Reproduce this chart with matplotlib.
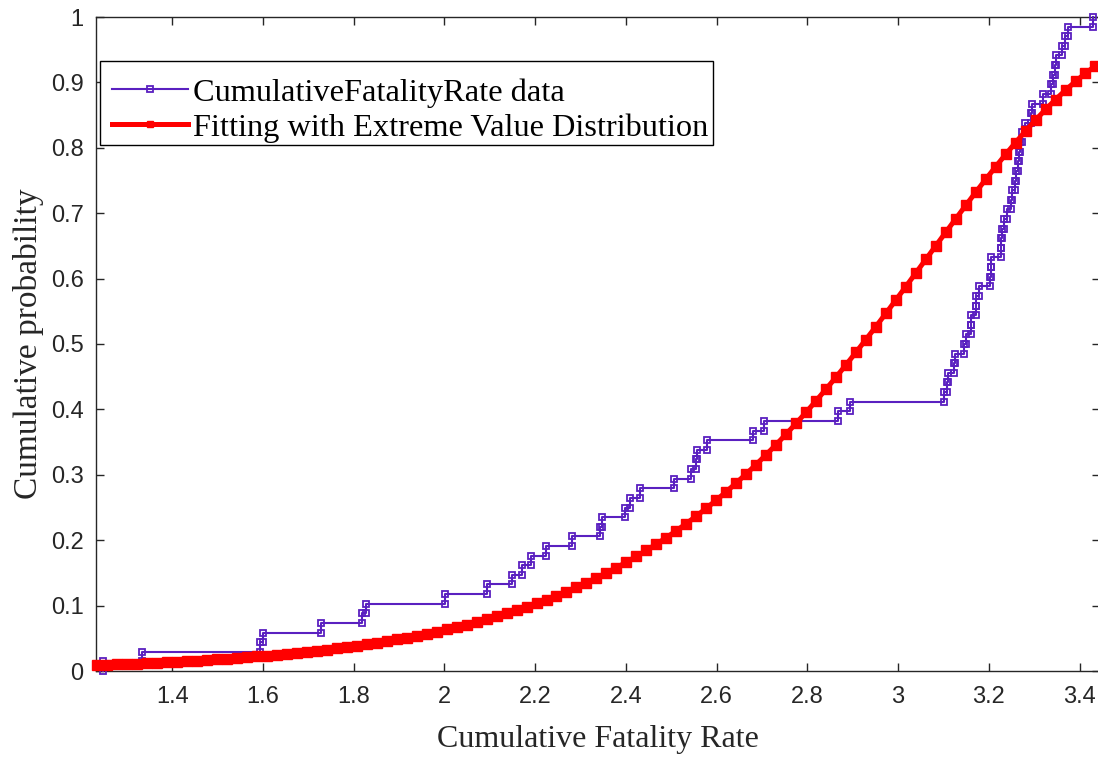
import matplotlib
matplotlib.use("Agg")
import matplotlib.pyplot as plt
from matplotlib.patches import Rectangle
import numpy as np

# ---- data: empirical CDF (sorted observations, 68 samples) ----
data_x = [1.248, 1.334, 1.594, 1.600, 1.728, 1.818, 1.828, 2.001, 2.093, 2.150,
          2.172, 2.190, 2.223, 2.282, 2.342, 2.347, 2.398, 2.409, 2.431, 2.505,
          2.543, 2.554, 2.556, 2.578, 2.681, 2.704, 2.867, 2.893, 3.102, 3.108,
          3.110, 3.124, 3.126, 3.145, 3.149, 3.160, 3.161, 3.171, 3.172, 3.179,
          3.202, 3.204, 3.205, 3.226, 3.227, 3.228, 3.234, 3.241, 3.249, 3.251,
          3.257, 3.260, 3.264, 3.266, 3.268, 3.273, 3.279, 3.294, 3.295, 3.319,
          3.338, 3.341, 3.345, 3.349, 3.361, 3.367, 3.375, 3.430]

# ---- fitted extreme value distribution curve ----
fit_x = [1.235, 1.257, 1.279, 1.301, 1.323, 1.345, 1.367, 1.389, 1.411, 1.433,
         1.455, 1.477, 1.499, 1.521, 1.543, 1.565, 1.587, 1.609, 1.631, 1.653,
         1.675, 1.697, 1.719, 1.741, 1.763, 1.785, 1.807, 1.829, 1.851, 1.873,
         1.895, 1.917, 1.939, 1.961, 1.983, 2.005, 2.027, 2.049, 2.071, 2.093,
         2.115, 2.137, 2.159, 2.181, 2.203, 2.225, 2.247, 2.269, 2.291, 2.313,
         2.335, 2.357, 2.379, 2.401, 2.423, 2.445, 2.467, 2.489, 2.511, 2.533,
         2.555, 2.577, 2.599, 2.621, 2.643, 2.665, 2.687, 2.709, 2.731, 2.753,
         2.775, 2.797, 2.819, 2.841, 2.863, 2.885, 2.907, 2.929, 2.951, 2.973,
         2.995, 3.017, 3.039, 3.061, 3.083, 3.105, 3.127, 3.149, 3.171, 3.193,
         3.215, 3.237, 3.259, 3.281, 3.303, 3.325, 3.347, 3.369, 3.391, 3.413,
         3.435]
fit_y = [0.0090, 0.0096, 0.0101, 0.0107, 0.0113, 0.0120, 0.0127, 0.0134, 0.0142, 0.0150,
         0.0159, 0.0168, 0.0177, 0.0188, 0.0198, 0.0210, 0.0222, 0.0235, 0.0248, 0.0262,
         0.0277, 0.0293, 0.0310, 0.0328, 0.0347, 0.0366, 0.0387, 0.0409, 0.0433, 0.0457,
         0.0483, 0.0511, 0.0540, 0.0570, 0.0602, 0.0636, 0.0672, 0.0709, 0.0749, 0.0791,
         0.0835, 0.0881, 0.0930, 0.0982, 0.1036, 0.1093, 0.1152, 0.1215, 0.1281, 0.1350,
         0.1423, 0.1499, 0.1579, 0.1663, 0.1751, 0.1843, 0.1939, 0.2039, 0.2144, 0.2254,
         0.2368, 0.2487, 0.2611, 0.2740, 0.2874, 0.3013, 0.3157, 0.3307, 0.3461, 0.3621,
         0.3786, 0.3955, 0.4130, 0.4309, 0.4492, 0.4680, 0.4872, 0.5068, 0.5266, 0.5468,
         0.5672, 0.5878, 0.6085, 0.6293, 0.6501, 0.6708, 0.6914, 0.7118, 0.7320, 0.7517,
         0.7711, 0.7899, 0.8081, 0.8257, 0.8425, 0.8586, 0.8738, 0.8881, 0.9015, 0.9139,
         0.9254]

x_ticks = [1.4, 1.6, 1.8, 2.0, 2.2, 2.4, 2.6, 2.8, 3.0, 3.2, 3.4]
x_tick_labels = ["1.4", "1.6", "1.8", "2", "2.2", "2.4", "2.6", "2.8", "3", "3.2", "3.4"]
y_ticks = [0, 0.1, 0.2, 0.3, 0.4, 0.5, 0.6, 0.7, 0.8, 0.9, 1.0]
y_tick_labels = ["0", "0.1", "0.2", "0.3", "0.4", "0.5", "0.6", "0.7", "0.8", "0.9", "1"]

label_data = "CumulativeFatalityRate data"
label_fit = "Fitting with Extreme Value Distribution"
x_label = "Cumulative Fatality Rate"
y_label = "Cumulative probability"

# ---- build stair vertices of the empirical CDF ----
n = len(data_x)
ecdf_levels = np.arange(0, n + 1) / n
stair_x = np.repeat(np.asarray(data_x), 2)
stair_y = np.empty(2 * n)
stair_y[0::2] = ecdf_levels[:-1]
stair_y[1::2] = ecdf_levels[1:]

purple = "#5A20C0"
red = "#FF0000"
axis_col = "#262626"

W, H = 1098, 757
AX_L, AX_B, AX_R, AX_T = 96, 671, 1100, 17   # pixel box of the axes
fig = plt.figure(figsize=(W / 100, H / 100), dpi=100)
ax = fig.add_axes([AX_L / W, (H - AX_B) / H, (AX_R - AX_L) / W, (AX_B - AX_T) / H])


def ax_x(px):
    return (px - AX_L) / (AX_R - AX_L)


def ax_y(py):
    return (AX_B - py) / (AX_B - AX_T)


ax.plot(stair_x, stair_y, color=purple, linewidth=1.5, marker="s",
        markersize=5.0, markerfacecolor="none", markeredgecolor=purple,
        markeredgewidth=1.3, label=label_data, zorder=3, clip_on=False)
ax.plot(fit_x, fit_y, color=red, linewidth=3.6, marker="s", markersize=6.5,
        markerfacecolor=red, markeredgecolor=red, label=label_fit, zorder=4,
        clip_on=False)

ax.set_xlim(1.232, 3.445)
ax.set_ylim(0, 1)
ax.set_xticks(x_ticks)
ax.set_xticklabels(x_tick_labels)
ax.set_yticks(y_ticks)
ax.set_yticklabels(y_tick_labels)

for lab in ax.get_xticklabels() + ax.get_yticklabels():
    lab.set_fontfamily("Liberation Sans")
    lab.set_fontsize(17)
    lab.set_color(axis_col)

ax.tick_params(direction="in", length=6, width=1.0, colors=axis_col,
               top=True, right=True)
ax.tick_params(axis="x", pad=11)
ax.tick_params(axis="y", pad=9)
for s in ax.spines.values():
    s.set_color(axis_col)
    s.set_linewidth(1.0)

ax.set_xlabel(x_label, family="Liberation Serif", fontsize=23, color=axis_col,
              labelpad=12)
ax.set_ylabel(y_label, family="Liberation Serif", fontsize=24, color=axis_col,
              labelpad=5)

# legend frame (drawn separately so the text can sit like the original)
frame = Rectangle((ax_x(100), ax_y(145)), ax_x(713) - ax_x(100),
                  ax_y(61) - ax_y(145), transform=ax.transAxes,
                  facecolor="white", edgecolor="black", linewidth=1.0,
                  zorder=6, clip_on=False)
ax.add_patch(frame)

leg = ax.legend(loc="upper left", bbox_to_anchor=(ax_x(112), ax_y(78)),
                borderaxespad=0, borderpad=0, numpoints=1, frameon=False,
                handlelength=2.35, handletextpad=0.15, labelspacing=0.17,
                prop={"family": "Liberation Serif", "size": 23.3})
leg.set_zorder(7)
for h in leg.get_lines():
    h.set_markersize(4)

fig.savefig("out.png", dpi=100)
